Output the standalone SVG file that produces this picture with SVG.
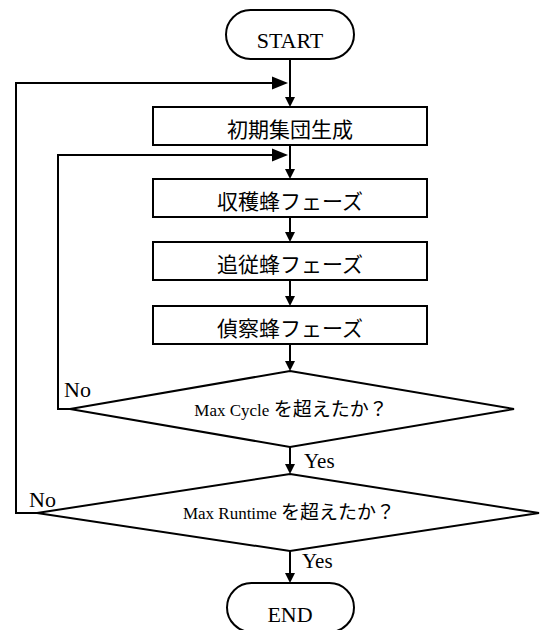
<svg xmlns="http://www.w3.org/2000/svg" width="540" height="630" viewBox="0 0 540 630">
<defs>
<marker id="av" markerUnits="userSpaceOnUse" markerWidth="10" markerHeight="10" refX="5" refY="5" orient="auto" overflow="visible">
<path d="M0,0 L10,5 L0,10 Z" fill="#000"/>
</marker>
<marker id="ah" markerUnits="userSpaceOnUse" markerWidth="16" markerHeight="13" refX="8" refY="6.5" orient="auto" overflow="visible">
<path d="M0,0 L16,6.5 L0,13 Z" fill="#000"/>
</marker>
<style>
.shape{fill:#fff;stroke:#000;stroke-width:2}
.ln{fill:none;stroke:#000;stroke-width:2}
.lat{font-family:"Liberation Serif","Noto Sans CJK JP",serif;fill:#000}
.jp{font-family:"Liberation Serif","Noto Sans CJK JP",serif;font-size:21px;fill:#000;text-anchor:middle}
</style>
</defs>
<rect width="540" height="630" fill="#fff"/>
<g id="connectors">
<line class="ln" x1="290" y1="59" x2="290" y2="102" marker-end="url(#av)"/>
<line class="ln" x1="290" y1="145" x2="290" y2="174" marker-end="url(#av)"/>
<line class="ln" x1="290" y1="217" x2="290" y2="237" marker-end="url(#av)"/>
<line class="ln" x1="290" y1="280" x2="290" y2="301" marker-end="url(#av)"/>
<line class="ln" x1="290" y1="344" x2="290" y2="366" marker-end="url(#av)"/>
<line class="ln" x1="290" y1="447" x2="290" y2="469" marker-end="url(#av)"/>
<line class="ln" x1="290" y1="551" x2="290" y2="578" marker-end="url(#av)"/>
<polyline class="ln" points="70,409 58,409 58,155 280,155" marker-end="url(#ah)"/>
<polyline class="ln" points="37,513 16,513 16,83 280,83" marker-end="url(#ah)"/>
<text class="lat" x="64" y="397" font-size="22">No</text>
<text class="lat" x="29" y="507" font-size="22">No</text>
<text class="lat" x="304" y="468" font-size="21">Yes</text>
<text class="lat" x="302" y="568" font-size="21">Yes</text>
</g>
<g id="start">
<rect class="shape" x="226" y="10" width="128" height="49" rx="24.5"/>
<text class="lat" x="290" y="48" font-size="22" text-anchor="middle">START</text>
</g>
<g id="init">
<rect class="shape" x="153" y="107" width="274" height="38"/>
<text class="jp" x="290" y="137">初期集団生成</text>
</g>
<g id="employed">
<rect class="shape" x="153" y="179" width="274" height="38"/>
<text class="jp" x="290" y="209">収穫蜂フェーズ</text>
</g>
<g id="onlooker">
<rect class="shape" x="153" y="242" width="274" height="38"/>
<text class="jp" x="290" y="272">追従蜂フェーズ</text>
</g>
<g id="scout">
<rect class="shape" x="153" y="306" width="274" height="38"/>
<text class="jp" x="290" y="336">偵察蜂フェーズ</text>
</g>
<g id="maxcycle">
<polygon class="shape" points="290,371 514,409 290,447 70,409"/>
<text class="lat" x="291" y="416" font-size="17" text-anchor="middle">Max Cycle <tspan font-size="19">を超えたか？</tspan></text>
</g>
<g id="maxruntime">
<polygon class="shape" points="290,474 539,513 290,551 37,513"/>
<text class="lat" x="289" y="519" font-size="17" text-anchor="middle">Max Runtime <tspan font-size="19">を超えたか？</tspan></text>
</g>
<g id="end">
<rect class="shape" x="227" y="583" width="127" height="49" rx="24.5"/>
<text class="lat" x="290" y="622" font-size="22" text-anchor="middle">END</text>
</g>
</svg>
